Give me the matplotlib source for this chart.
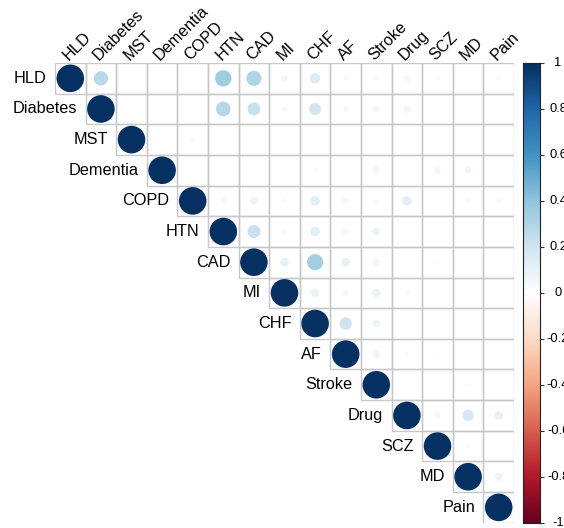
import numpy as np
import matplotlib
matplotlib.use("Agg")
import matplotlib.pyplot as plt
from matplotlib.colors import LinearSegmentedColormap
from matplotlib.patches import Rectangle, Circle
from matplotlib.transforms import blended_transform_factory

labels = ["HLD", "Diabetes", "MST", "Dementia", "COPD", "HTN", "CAD", "MI",
          "CHF", "AF", "Stroke", "Drug", "SCZ", "MD", "Pain"]

# upper triangle, values to the right of the diagonal for each row
r_hld = [0.27, 0.005, 0.003, 0.008, 0.35, 0.30, 0.06, 0.14, 0.03, 0.025, -0.06, -0.03, 0.004, 0.03]
r_diabetes = [0.004, 0.004, 0.008, 0.28, 0.22, 0.04, 0.19, 0.04, 0.06, -0.07, -0.015, 0.005, 0.005]
r_mst = [0.004, 0.03, 0.008, 0.006, 0.006, 0.01, 0.01, 0.004, 0.004, 0.01, 0.005, 0.01]
r_dementia = [0.005, 0.008, 0.008, 0.005, 0.03, 0.01, 0.06, 0.01, 0.055, 0.06, 0.005]
r_copd = [0.04, 0.08, 0.025, 0.12, 0.05, 0.025, 0.12, 0.008, 0.04, 0.04]
r_htn = [0.22, 0.04, 0.12, 0.05, 0.08, -0.02, -0.01, 0.005, 0.003]
r_cad = [0.10, 0.34, 0.10, 0.06, -0.02, -0.02, 0.005, 0.005]
r_mi = [0.09, 0.05, 0.09, 0.03, 0.005, 0.005, 0.005]
r_chf = [0.20, 0.08, 0.01, 0.01, 0.01, 0.01]
r_af = [0.07, -0.03, -0.02, 0.01, 0.002]
r_stroke = [0.003, 0.003, 0.02, 0.002]
r_drug = [0.05, 0.17, 0.10]
r_scz = [0.03, 0.002]
r_md = [0.08]

rows = [r_hld, r_diabetes, r_mst, r_dementia, r_copd, r_htn, r_cad, r_mi,
        r_chf, r_af, r_stroke, r_drug, r_scz, r_md, []]

cbar_ticks = [1, 0.8, 0.6, 0.4, 0.2, 0, -0.2, -0.4, -0.6, -0.8, -1]

n = len(labels)
corr = np.eye(n)
for i, vals in enumerate(rows):
    for k, v in enumerate(vals):
        corr[i, i + 1 + k] = v

cmap = LinearSegmentedColormap.from_list(
    "rdbu", ["#67001F", "#B2182B", "#D6604D", "#F4A582", "#FDDBC7", "#FFFFFF",
             "#D1E5F0", "#92C5DE", "#4393C3", "#2166AC", "#053061"], N=200)

plt.rcParams["font.family"] = ["Liberation Sans", "DejaVu Sans"]
W, H = 564, 528
fig = plt.figure(figsize=(W / 100, H / 100), dpi=100)

x0, x1, y0, y1 = 55, 514, 63, 522.7
ax = fig.add_axes([x0 / W, 1 - y1 / H, (x1 - x0) / W, (y1 - y0) / H])
ax.set_xlim(0, n)
ax.set_ylim(n, 0)
ax.axis("off")

for i in range(n):
    for j in range(i, n):
        ax.add_patch(Rectangle((j, i), 1, 1, fill=False, ec="#C8C8C8", lw=1.0))
for i in range(n):
    for j in range(i, n):
        r = corr[i, j]
        ax.add_patch(Circle((j + 0.5, i + 0.5), 0.45 * np.sqrt(abs(r)),
                            color=cmap((r + 1) / 2), lw=0))

fs = 11.7
for j, lab in enumerate(labels):
    ax.text(j + 0.43, -0.08, lab, rotation=45, rotation_mode="anchor",
            ha="left", va="baseline", fontsize=fs, color="black", clip_on=False)
    ax.text(j - 0.27, j + 0.5, lab, ha="right", va="center", fontsize=fs,
            color="black", clip_on=False)

# colour legend
cx0, cx1 = 523, 540
cax = fig.add_axes([cx0 / W, 1 - y1 / H, (cx1 - cx0) / W, (y1 - 62.7) / H])
grad = np.linspace(-1, 1, 200).reshape(-1, 1)
cax.imshow(grad, cmap=cmap, aspect="auto", origin="lower", extent=[0, 1, -1, 1])
cax.set_xticks([])
cax.yaxis.tick_right()
cax.set_yticks(cbar_ticks)
cax.set_yticklabels([])
cax.tick_params(axis="y", length=3, width=0.8, color="#333333")
for s in cax.spines.values():
    s.set_linewidth(0.8)
    s.set_color("#222222")
trans = blended_transform_factory(fig.transFigure, cax.transData)
for t in cbar_ticks:
    fig.text(558 / W, t, "%g" % t, ha="center", va="center", fontsize=9.3,
             transform=trans)

fig.savefig("out.png", dpi=100, facecolor="white")
